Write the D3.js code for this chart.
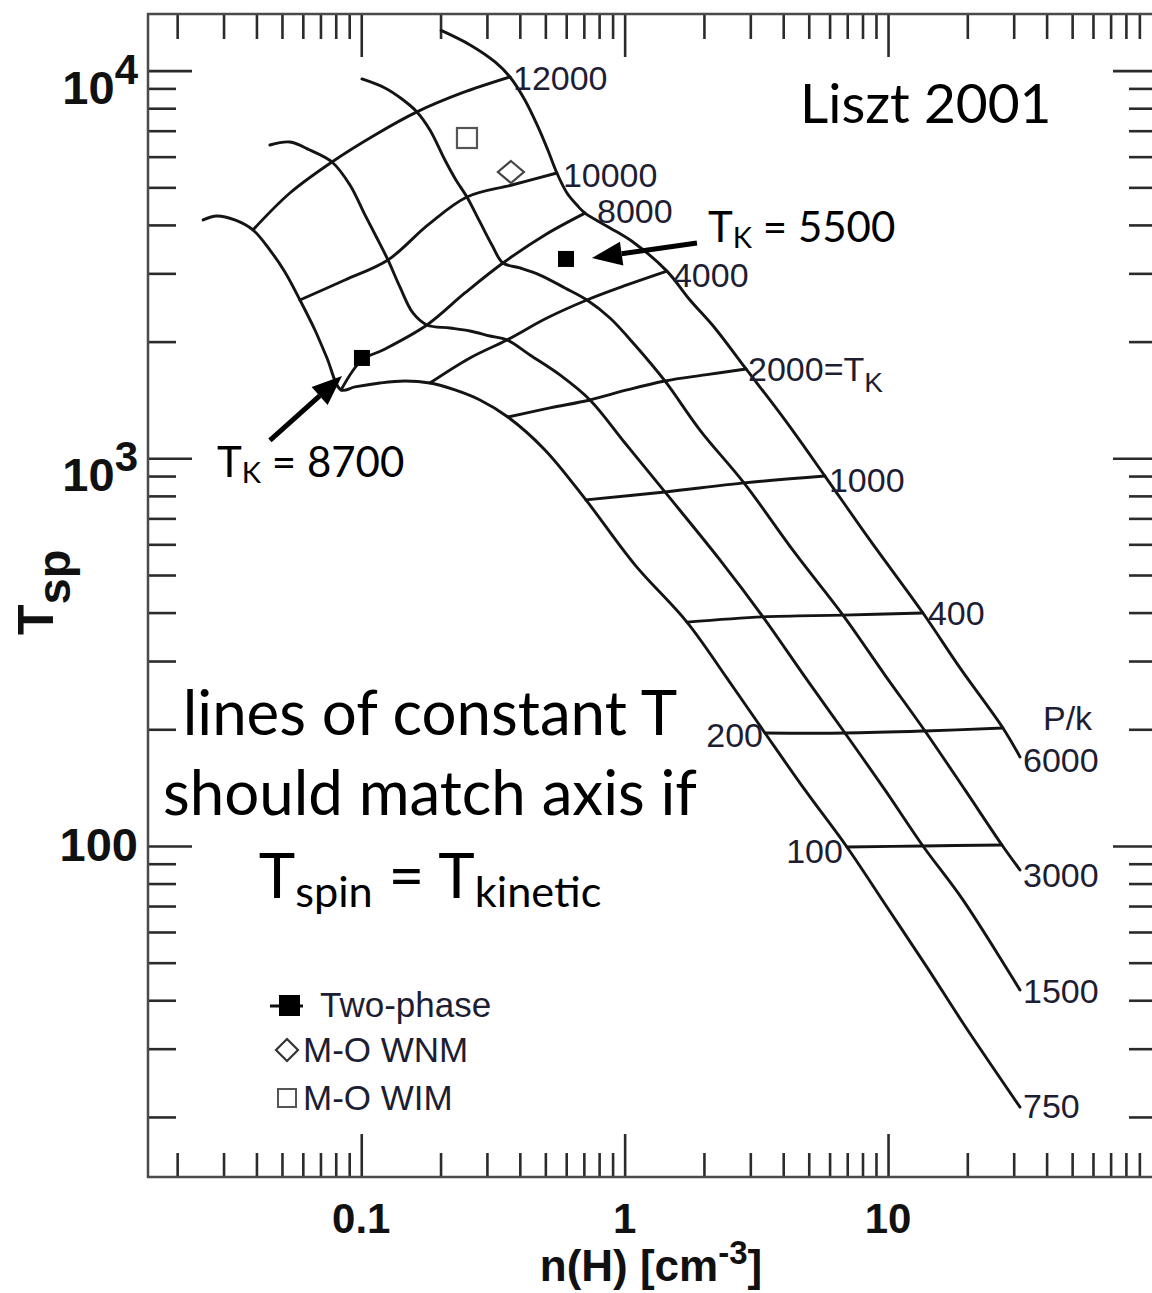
<!DOCTYPE html>
<html>
<head>
<meta charset="utf-8">
<script src="https://cdn.jsdelivr.net/npm/d3@7/dist/d3.min.js"></script>
<style>
html,body{margin:0;padding:0;background:#fff;}
svg{display:block;}
</style>
</head>
<body>
<svg id="chart" width="1152" height="1293"></svg>
<script>
// ---------- DATA: n(H) [cm^-3], T_sp [K] ----------
// constant-pressure tracks (P/k)
const pk6000 = [[0.201,12700],[0.259,11650],[0.322,10530],[0.367,9630],[0.418,8400],[0.469,7160],[0.511,6240],[0.553,5445],[0.604,4835],[0.659,4500],[0.707,4290],[0.880,3930],[1.075,3614],[1.447,3040],[1.77,2561],[2.20,2169],[2.89,1700],[4.06,1256],[5.76,900],[8.54,615],[13.57,399],[18.76,288],[27.3,201.5],[31.7,169.7]];
const pk3000 = [[0.1006,9517],[0.123,9022],[0.1427,8450],[0.1627,7826],[0.1823,7030],[0.2078,5882],[0.2288,5224],[0.2519,4722],[0.2822,4071],[0.3134,3550],[0.3451,3190],[0.4004,3097],[0.4769,2970],[0.5934,2751],[0.7193,2561],[0.8795,2301],[1.094,1960],[1.422,1583],[1.931,1183],[2.838,864],[4.432,570],[6.744,394],[9.734,276],[13.81,198],[19.6,139.5],[27.07,100.6],[31.7,86.7]];
const pk1500 = [[0.045,6430],[0.0536,6546],[0.0638,6241],[0.0774,5813],[0.0906,5070],[0.1033,4244],[0.1157,3658],[0.1263,3248],[0.1402,2767],[0.1571,2371],[0.1776,2208],[0.2171,2169],[0.2586,2130],[0.3081,2068],[0.3574,2020],[0.437,1847],[0.5679,1641],[0.7385,1414],[1.003,1095],[1.422,819],[2.30,547],[3.35,390],[4.836,273],[6.863,195.6],[9.734,139.5],[13.57,100],[19.25,72.6],[31.7,42.5]];
const pk750 = [[0.0251,4120],[0.0283,4218],[0.0331,4120],[0.0388,3883],[0.045,3446],[0.0513,3024],[0.0585,2561],[0.0667,2143],[0.0741,1815],[0.0838,1501],[0.0946,1528],[0.1177,1564],[0.1464,1583],[0.1823,1564],[0.2268,1501],[0.2822,1414],[0.3604,1278],[0.4982,1051],[0.7128,781],[1.094,531],[1.724,378],[2.446,271],[3.41,195.6],[4.836,139.5],[6.982,99.4],[9.906,69.6],[14.05,48.7],[19.25,34.95],[31.7,21.2]];
const pressureLabels = ["6000","3000","1500","750"];

// constant kinetic-temperature lines (T_K)
const tk12000 = [[0.0388,3883],[0.0536,4835],[0.0774,5813],[0.1127,6823],[0.1627,7826],[0.2411,8758],[0.367,9630]];
const tk10000 = [[0.0585,2561],[0.0867,2884],[0.1263,3248],[0.1792,4000],[0.2519,4722],[0.3733,5070],[0.553,5445]];
const tk8000  = [[0.0838,1501],[0.1006,1793],[0.1209,1903],[0.1776,2208],[0.2475,2670],[0.3451,3190],[0.4982,3769],[0.707,4290]];
const tk4000  = [[0.1823,1564],[0.2586,1815],[0.3574,2020],[0.507,2301],[0.7193,2561],[1.020,2800],[1.447,3040]];
const tk2000  = [[0.3604,1278],[0.5204,1349],[0.7385,1414],[1.020,1501],[1.422,1583],[2.018,1641],[2.89,1700]];
const tk1000  = [[0.7128,781],[1.422,819],[2.838,864],[5.76,900]];
const tk400   = [[1.724,378],[3.35,390],[6.744,394],[13.57,399]];
const tk200   = [[3.41,195.6],[6.863,195.6],[13.81,198],[27.3,201.5]];
const tk100   = [[6.982,99.4],[13.57,100],[27.07,100.6]];

// model points
const twoPhase = [[0.1006,1815],[0.599,3268]];
const moWNM = [[0.370,5478]];
const moWIM = [[0.252,6703]];

// annotation arrows (tail -> tip)
const arrow8700 = [[0.045,1112],[0.0845,1631]];
const arrow5500 = [[1.882,3593],[0.7512,3287]];

// axis tick labels
const xMajor = [0.1, 1, 10];
const xMajorLabels = ["0.1", "1", "10"];
const yMajor = [100, 1000, 10000];
const yMajorLabels = [["100",""],["10","3"],["10","4"]];

// ---------- CHART ----------
const svg = d3.select("#chart");
svg.append("rect").attr("width",1152).attr("height",1293).attr("fill","#fff");

const frame = {left:148, right:1157, top:14, bottom:1177};
const x = d3.scaleLog().domain([0.0155,105]).range([frame.left, frame.right]);
const y = d3.scaleLog().domain([14,14000]).range([frame.bottom, frame.top]);

const isPow10 = v => Math.abs(Math.log10(v) - Math.round(Math.log10(v))) < 1e-9;
const xMinor = x.ticks().filter(v => !isPow10(v));
const yMinor = y.ticks().filter(v => !isPow10(v));

svg.append("defs").append("clipPath").attr("id","plotClip")
  .append("rect").attr("x",frame.left).attr("y",frame.top)
  .attr("width",frame.right-frame.left).attr("height",frame.bottom-frame.top);

function drawTicks(axis, values, len, tr) {
  const g = svg.append("g").attr("transform", tr)
    .call(axis.tickValues(values).tickSize(-len).tickSizeOuter(0).tickFormat(() => ""));
  g.select(".domain").remove();
  g.selectAll(".tick text").remove();
  g.selectAll(".tick line").attr("stroke","#2b2b2b").attr("stroke-width",2.6);
}
drawTicks(d3.axisBottom(x), xMinor, 24, `translate(0,${frame.bottom})`);
drawTicks(d3.axisBottom(x), xMajor, 43, `translate(0,${frame.bottom})`);
drawTicks(d3.axisTop(x), xMinor, 25, `translate(0,${frame.top})`);
drawTicks(d3.axisTop(x), xMajor, 43, `translate(0,${frame.top})`);
drawTicks(d3.axisLeft(y), yMinor, 28, `translate(${frame.left},0)`);
drawTicks(d3.axisLeft(y), yMajor, 44, `translate(${frame.left},0)`);
drawTicks(d3.axisRight(y), yMinor, 28, `translate(${frame.right},0)`);
drawTicks(d3.axisRight(y), yMajor, 44, `translate(${frame.right},0)`);

svg.append("rect").attr("x",frame.left).attr("y",frame.top)
  .attr("width",frame.right-frame.left).attr("height",frame.bottom-frame.top)
  .attr("fill","none").attr("stroke","#4a4a4a").attr("stroke-width",2.5);

// tick labels
const tickFont = "'Liberation Sans', Arial, Helvetica, sans-serif";
svg.append("g").selectAll("text").data(xMajor).join("text")
  .attr("x", d => x(d)).attr("y", 1233)
  .attr("text-anchor","middle").attr("font-family",tickFont).attr("font-weight",700)
  .attr("font-size",42).attr("fill","#111")
  .text((d,i) => xMajorLabels[i]);

yMajor.forEach((v,i) => {
  const [base, sup] = yMajorLabels[i];
  const t = svg.append("text").attr("x",138).attr("y", y(v) + (sup ? 33 : 15))
    .attr("text-anchor","end").attr("font-family",tickFont).attr("font-weight",700)
    .attr("font-size",47).attr("fill","#111");
  t.append("tspan").text(base);
  if (sup) t.append("tspan").attr("dy",-20).attr("font-size",42).text(sup);
});

// axis titles
const xt = svg.append("text").attr("x",651).attr("y",1281).attr("text-anchor","middle")
  .attr("font-family",tickFont).attr("font-weight",700).attr("font-size",44).attr("fill","#111");
xt.append("tspan").text("n(H) [cm");
xt.append("tspan").attr("dy",-17).attr("font-size",33).text("-3");
xt.append("tspan").attr("dy",17).text("]");

const yt = svg.append("text").attr("transform","translate(53,635) rotate(-90)")
  .attr("font-family",tickFont).attr("font-weight",700).attr("font-size",50).attr("fill","#111");
yt.append("tspan").text("T");
yt.append("tspan").attr("dy",17).attr("font-size",47).text("sp");

// curves
const line = d3.line().x(d => x(d[0])).y(d => y(d[1])).curve(d3.curveCatmullRom.alpha(0.5));
const curves = [pk6000, pk3000, pk1500, pk750, tk12000, tk10000, tk8000, tk4000, tk2000, tk1000, tk400, tk200, tk100];
svg.append("g").attr("clip-path","url(#plotClip)")
  .selectAll("path").data(curves).join("path")
  .attr("d", line).attr("fill","none").attr("stroke","#141414")
  .attr("stroke-width",2.9).attr("stroke-linejoin","round").attr("stroke-linecap","round");

// curve labels
const lblFont = "'Liberation Sans', Arial, Helvetica, sans-serif";
const lblColor = "#1d1d33";
function curveLabel(pt, text, dx, dy, anchor) {
  return svg.append("text").attr("x", x(pt[0]) + dx).attr("y", y(pt[1]) + dy)
    .attr("text-anchor", anchor || "start").attr("font-family", lblFont)
    .attr("font-size", 34).attr("fill", lblColor).text(text);
}
const last = a => a[a.length-1];
curveLabel(last(tk12000), "12000", 3, 13);
curveLabel(last(tk10000), "10000", 6, 14);
curveLabel(last(tk8000), "8000", 12, 10);
curveLabel(last(tk4000), "4000", 6, 16);
const l2000 = curveLabel(last(tk2000), "2000=T", 2, 12);
l2000.append("tspan").attr("dy",11).attr("font-size",28).text("K");
curveLabel(last(tk1000), "1000", 4, 16);
curveLabel(last(tk400), "400", 5, 12);
curveLabel(tk200[0], "200", -2, 14, "end");
curveLabel(tk100[0], "100", -4, 16, "end");
[pk6000, pk3000, pk1500, pk750].forEach((c,i) => {
  curveLabel(last(c), pressureLabels[i], 3, [15,17,13,11][i]);
});
curveLabel(last(pk6000), "P/k", 23, -27);

// markers
svg.append("g").selectAll("rect").data(twoPhase).join("rect")
  .attr("x", d => x(d[0]) - 8).attr("y", d => y(d[1]) - 8)
  .attr("width",16).attr("height",16).attr("fill","#000");
const diamond = (cx, cy, w, h) => `M${cx},${cy-h}L${cx+w},${cy}L${cx},${cy+h}L${cx-w},${cy}Z`;
svg.append("g").selectAll("path").data(moWNM).join("path")
  .attr("d", d => diamond(x(d[0]), y(d[1]), 13, 11))
  .attr("fill","#fff").attr("stroke","#444").attr("stroke-width",2.2);
svg.append("g").selectAll("rect").data(moWIM).join("rect")
  .attr("x", d => x(d[0]) - 10).attr("y", d => y(d[1]) - 10)
  .attr("width",20).attr("height",20).attr("fill","#fff").attr("stroke","#555").attr("stroke-width",2.2);

// arrows
function arrow(a) {
  const [x0,y0] = [x(a[0][0]), y(a[0][1])];
  const [x1,y1] = [x(a[1][0]), y(a[1][1])];
  const ang = Math.atan2(y1-y0, x1-x0);
  const L = 30, Wd = 12;
  const bx = x1 - L*Math.cos(ang), by = y1 - L*Math.sin(ang);
  svg.append("line").attr("x1",x0).attr("y1",y0).attr("x2",bx).attr("y2",by)
    .attr("stroke","#000").attr("stroke-width",5);
  const px = -Math.sin(ang)*Wd, py = Math.cos(ang)*Wd;
  svg.append("path").attr("d",`M${x1},${y1}L${bx+px},${by+py}L${bx-px},${by-py}Z`).attr("fill","#000");
}
arrow(arrow8700);
arrow(arrow5500);

// annotations
const annFont = "Lato, 'Open Sans', sans-serif";
svg.append("text").attr("x",800).attr("y",123).attr("font-family",annFont)
  .attr("font-size",55).attr("fill","#000").text("Liszt 2001");

function tkNote(x0, y0, val) {
  const t = svg.append("text").attr("x",x0).attr("y",y0).attr("font-family",annFont)
    .attr("font-size",42).attr("fill","#000");
  t.append("tspan").text("T");
  t.append("tspan").attr("dy",6).attr("font-size",29).text("K");
  t.append("tspan").attr("dy",-6).text(" = " + val);
}
tkNote(708, 242, "5500");
tkNote(217, 477, "8700");

const n1 = svg.append("text").attr("x",430).attr("y",735).attr("text-anchor","middle")
  .attr("font-family",annFont).attr("font-size",60).attr("fill","#000").text("lines of constant T");
const n2 = svg.append("text").attr("x",430).attr("y",815).attr("text-anchor","middle")
  .attr("font-family",annFont).attr("font-size",60).attr("fill","#000").text("should match axis if");
const w1 = n1.node().getComputedTextLength(), w2 = n2.node().getComputedTextLength();
const fs = 60 * ((495 / w1) + (534 / w2)) / 2;
n1.attr("font-size", fs); n2.attr("font-size", fs);
const n3 = svg.append("text").attr("x",430).attr("y",898).attr("text-anchor","middle")
  .attr("font-family",annFont).attr("font-size",fs).attr("fill","#000");
n3.append("tspan").text("T");
n3.append("tspan").attr("dy",9).attr("font-size",fs*0.7).text("spin");
n3.append("tspan").attr("dy",-9).text(" = T");
n3.append("tspan").attr("dy",9).attr("font-size",fs*0.7).text("kinetic");

// legend
const lg = svg.append("g").attr("font-family",lblFont).attr("font-size",35).attr("fill",lblColor);
lg.append("line").attr("x1",270).attr("x2",303).attr("y1",1006).attr("y2",1006).attr("stroke","#111").attr("stroke-width",3);
lg.append("rect").attr("x",279).attr("y",995).attr("width",21).attr("height",21).attr("fill","#000");
lg.append("text").attr("x",320).attr("y",1017).text("Two-phase");
lg.append("path").attr("d", diamond(287,1050,11,11)).attr("fill","#fff").attr("stroke","#333").attr("stroke-width",2.2);
lg.append("text").attr("x",303).attr("y",1062).text("M-O WNM");
lg.append("rect").attr("x",278).attr("y",1089).attr("width",18).attr("height",18).attr("fill","#fff").attr("stroke","#555").attr("stroke-width",2);
lg.append("text").attr("x",303).attr("y",1110).text("M-O WIM");
</script>
</body>
</html>
